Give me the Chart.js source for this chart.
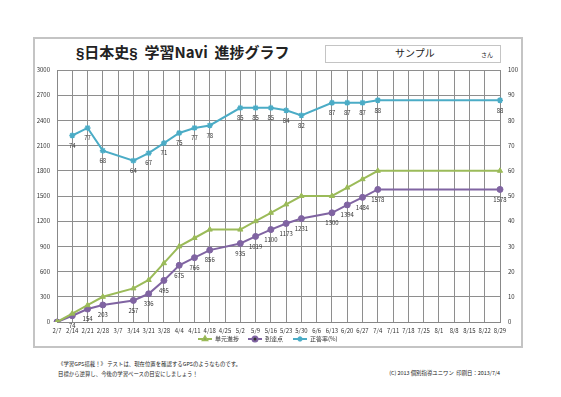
<!DOCTYPE html>
<html>
<head>
<meta charset="utf-8">
<script src="https://cdn.jsdelivr.net/npm/chart.js@4.4.0/dist/chart.umd.min.js"></script>
<style>
  html, body { margin: 0; padding: 0; background: #fff; }
  body { width: 561px; height: 397px; position: relative; overflow: hidden;
         font-family: "Noto Sans CJK JP", sans-serif; color: #222; }
  #frame { position: absolute; left: 33px; top: 37px; width: 486px; height: 307px;
           border: 2px solid #c4c4c4; }
  #title { position: absolute; left: 76px; top: 41px; font-size: 15px; font-weight: bold;
           white-space: pre; }
  #title .s { font-family: "Liberation Sans", sans-serif; }
  #namebox { position: absolute; left: 325px; top: 45px; width: 174px; height: 16px;
             border: 1px solid #c4c4c4; }
  #name { position: absolute; left: 395px; top: 45px; font-size: 10px; }
  #san { position: absolute; left: 481px; top: 50px; font-size: 6px; }
  #note { position: absolute; left: 58px; top: 359px; font-size: 5.4px; line-height: 10px; }
  #copy { position: absolute; right: 61px; top: 369px; font-size: 5.4px; white-space: pre; }
  canvas { position: absolute; left: 0; top: 0; }
</style>
</head>
<body>
<div id="frame"></div>
<div id="title"><span class="s">§</span>日本史<span class="s">§</span>  学習Navi  進捗グラフ</div>
<div id="namebox"></div>
<div id="name">サンプル</div>
<div id="san">さん</div>
<div id="note">《学習GPS搭載！》 テストは、現在位置を確認するGPSのようなものです。<br>目標から逆算し、今後の学習ペースの目安にしましょう！</div>
<div id="copy">(C) 2013 個別指導ユニワン  印刷日：2013/7/4</div>
<div style="position:absolute;left:0;top:0;width:561px;height:397px">
  <canvas id="chart"></canvas>
</div>
<script>
const weeks = ["2/7", "2/14", "2/21", "2/28", "3/7", "3/14", "3/21", "3/28", "4/4", "4/11",
  "4/18", "4/25", "5/2", "5/9", "5/16", "5/23", "5/30", "6/6", "6/13", "6/20",
  "6/27", "7/4", "7/11", "7/18", "7/25", "8/1", "8/8", "8/15", "8/22", "8/29"];

// 単元進捗
const unitProgress = [0, 100, 200, 300, null, 400, 500, 700, 900, 1000,
  1100, null, 1100, 1200, 1300, 1400, 1500, null, 1500, 1600,
  1700, 1800, null, null, null, null, null, null, null, 1800];
// 到達点
const reached = [0, 74, 154, 203, null, 257, 336, 495, 675, 766,
  856, null, 935, 1019, 1100, 1173, 1231, null, 1300, 1394,
  1484, 1578, null, null, null, null, null, null, null, 1578];
// 正答率(%)
const correctRate = [null, 74, 77, 68, null, 64, 67, 71, 75, 77,
  78, null, 85, 85, 85, 84, 82, null, 87, 87,
  87, 88, null, null, null, null, null, null, null, 88];

const leftTicks = [0, 3000, 300];
const rightTicks = [0, 100, 10];

const FONT = "'Noto Sans CJK JP', sans-serif";

// value labels under the points
const valueLabels = {
  id: "valueLabels",
  afterDatasetsDraw(chart) {
    const ctx = chart.ctx;
    ctx.save();
    ctx.font = "6px " + FONT;
    ctx.fillStyle = "#333";
    ctx.textAlign = "center";
    ctx.textBaseline = "middle";
    chart.data.datasets.forEach((ds, i) => {
      if (!ds.showValues) return;
      chart.getDatasetMeta(i).data.forEach((pt, j) => {
        const v = ds.data[j];
        if (v === null || v === 0) return;
        ctx.fillText(String(v), pt.x, pt.y + 10);
      });
    });
    ctx.restore();
  },
};

// legend with line + marker
const lineLegend = {
  id: "lineLegend",
  afterDraw(chart) {
    const ctx = chart.ctx;
    const y = 339;
    const starts = [198, 248, 293];
    ctx.save();
    ctx.font = "6px " + FONT;
    ctx.textBaseline = "middle";
    chart.data.datasets.forEach((ds, i) => {
      const x = starts[i];
      ctx.strokeStyle = ds.borderColor;
      ctx.lineWidth = 2;
      ctx.beginPath();
      ctx.moveTo(x, y);
      ctx.lineTo(x + 14, y);
      ctx.stroke();
      Chart.helpers.drawPoint(ctx, {
        pointStyle: ds.pointStyle, radius: 2.5, borderWidth: 1.5, rotation: 0,
      }, x + 7, y);
      ctx.fillStyle = "#333";
      ctx.fillText(ds.label, x + 17, y);
    });
    ctx.restore();
  },
};

function series(label, data, color, style, axis, showValues) {
  return {
    label: label,
    data: data,
    yAxisID: axis,
    borderColor: color,
    backgroundColor: color,
    borderWidth: 2,
    pointStyle: style,
    pointRadius: 3,
    pointBorderWidth: style === "star" ? 1.5 : 1,
    spanGaps: true,
    tension: 0,
    showValues: showValues,
  };
}

new Chart(document.getElementById("chart"), {
  type: "line",
  data: {
    labels: weeks,
    datasets: [
      series("単元進捗", unitProgress, "#9BBB59", "triangle", "y", false),
      series("到達点", reached, "#8064A2", "circle", "y", true),
      series("正答率(%)", correctRate, "#4BACC6", "star", "y1", true),
    ],
  },
  options: {
    responsive: true,
    maintainAspectRatio: false,
    animation: false,
    layout: { padding: { top: 70, bottom: 59, left: 0, right: 0 } },
    plugins: {
      legend: { display: false },
      tooltip: { enabled: false },
    },
    scales: {
      x: {
        offset: false,
        grid: { color: "#8e8e8e", drawTicks: false },
        border: { color: "#888" },
        ticks: { font: { size: 6, family: FONT }, color: "#333", autoSkip: false,
                 maxRotation: 0, padding: 5 },
        afterFit(s) { s.height = 16; },
      },
      y: {
        position: "left",
        min: leftTicks[0],
        max: leftTicks[1],
        grid: { color: "#8e8e8e", drawTicks: false },
        border: { color: "#888" },
        ticks: { stepSize: leftTicks[2], font: { size: 6, family: FONT }, color: "#333",
                 padding: 7, callback: (v) => String(v) },
        afterFit(s) { s.width = 57; },
      },
      y1: {
        position: "right",
        min: rightTicks[0],
        max: rightTicks[1],
        grid: { drawOnChartArea: false, drawTicks: false },
        border: { color: "#888" },
        ticks: { stepSize: rightTicks[2], font: { size: 6, family: FONT }, color: "#333",
                 padding: 8, callback: (v) => String(v) },
        afterFit(s) { s.width = 61; },
      },
    },
  },
  plugins: [valueLabels, lineLegend],
});
</script>
</body>
</html>
